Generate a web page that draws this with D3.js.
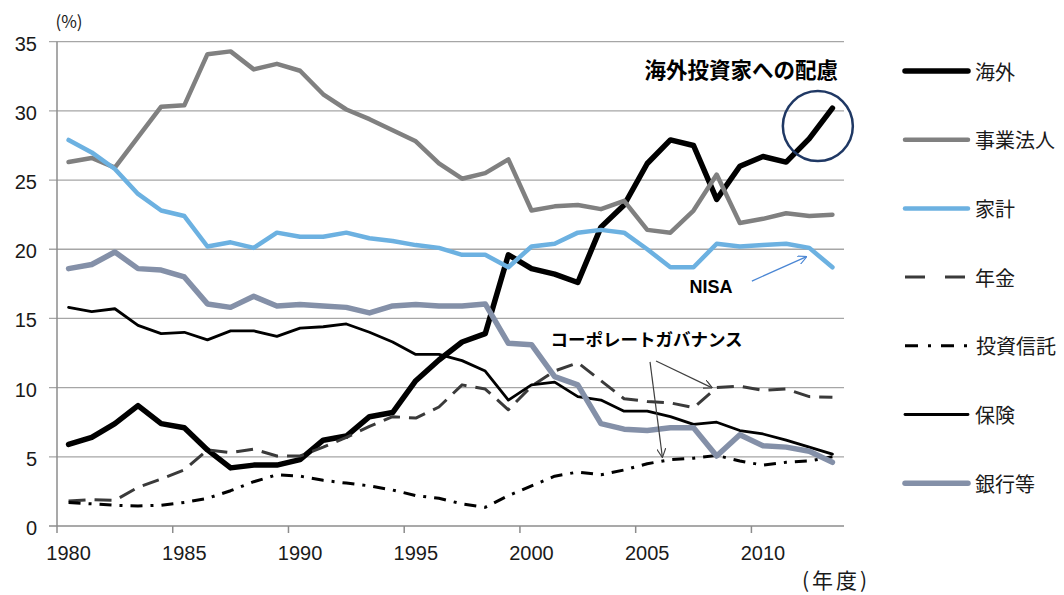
<!DOCTYPE html>
<html><head><meta charset="utf-8">
<script src="https://cdn.jsdelivr.net/npm/d3@7"></script>
<style>
html,body{margin:0;padding:0;background:#fff;}
svg{display:block;}
</style></head>
<body>
<svg id="chart" width="1064" height="595"></svg>
<script>
const years = [1980,1981,1982,1983,1984,1985,1986,1987,1988,1989,1990,1991,1992,1993,1994,1995,1996,1997,1998,1999,2000,2001,2002,2003,2004,2005,2006,2007,2008,2009,2010,2011,2012,2013];
const yTicks = [0,5,10,15,20,25,30,35];
const xTickYears = [1980,1985,1990,1995,2000,2005,2010];
const seriesNames = ["海外","事業法人","家計","年金","投資信託","保険","銀行等"];
const kaigai   = [5.9,6.4,7.4,8.7,7.4,7.1,5.5,4.2,4.4,4.4,4.8,6.2,6.5,7.9,8.2,10.5,12.0,13.3,13.9,19.6,18.6,18.2,17.6,21.6,23.2,26.2,27.9,27.5,23.6,26.0,26.7,26.3,28.0,30.2];
const jigyo    = [26.3,26.6,25.9,28.1,30.3,30.4,34.1,34.3,33.0,33.4,32.9,31.2,30.1,29.4,28.6,27.8,26.2,25.1,25.5,26.5,22.8,23.1,23.2,22.9,23.5,21.4,21.2,22.8,25.4,21.9,22.2,22.6,22.4,22.5];
const kakei    = [27.9,27.0,25.8,24.0,22.8,22.4,20.2,20.5,20.1,21.2,20.9,20.9,21.2,20.8,20.6,20.3,20.1,19.6,19.6,18.7,20.2,20.4,21.2,21.4,21.2,20.0,18.7,18.7,20.4,20.2,20.3,20.4,20.1,18.7];
const nenkin   = [1.8,1.9,1.85,2.8,3.4,4.05,5.5,5.3,5.55,5.06,5.06,5.7,6.4,7.2,7.9,7.8,8.6,10.2,9.9,8.4,10.1,11.2,11.8,10.5,9.2,9.0,8.9,8.55,10.0,10.1,9.8,9.9,9.35,9.3];
const toshin   = [1.7,1.6,1.5,1.45,1.5,1.7,2.0,2.55,3.2,3.7,3.6,3.3,3.1,2.9,2.6,2.2,2.0,1.6,1.35,2.2,2.9,3.6,3.9,3.7,4.05,4.5,4.8,4.9,5.1,4.7,4.4,4.6,4.7,5.0];
const hoken    = [15.8,15.5,15.7,14.5,13.9,14.0,13.45,14.1,14.1,13.7,14.3,14.4,14.6,14.0,13.3,12.4,12.4,11.95,11.2,9.1,10.2,10.4,9.35,9.1,8.3,8.3,7.9,7.35,7.5,6.9,6.65,6.2,5.7,5.2];
const ginko    = [18.6,18.9,19.8,18.6,18.5,18.0,16.05,15.8,16.6,15.9,16.0,15.9,15.8,15.4,15.9,16.0,15.9,15.9,16.05,13.2,13.1,10.8,10.2,7.4,7.0,6.9,7.1,7.1,5.06,6.6,5.8,5.7,5.4,4.6];

const seriesValues = [kaigai,jigyo,kakei,nenkin,toshin,hoken,ginko];
const styles = [
  {color:"#000000", width:5.5, dash:null, cap:"round"},
  {color:"#808080", width:4.5, dash:null, cap:"round"},
  {color:"#6cb1e1", width:4.5, dash:null, cap:"round"},
  {color:"#3a3a3a", width:3,   dash:"17,9", cap:"butt"},
  {color:"#000000", width:3,   dash:"12,8,3,8", cap:"butt"},
  {color:"#000000", width:2.8, dash:null, cap:"round"},
  {color:"#8490a8", width:5.5, dash:null, cap:"round"}
];

const svg = d3.select("#chart");
const pLeft = 57, pRight = 844, pTop = 41.7, pBottom = 526;
const x = d3.scaleBand().domain(years).range([pLeft,pRight]).padding(0);
const bw = x.bandwidth();
const xc = yr => x(yr) + bw/2;
const xf = yr => pLeft + (yr - years[0] + 0.5)*bw; // fractional year position
const y = d3.scaleLinear().domain([0,35]).range([pBottom,pTop]);

const numFont = "'Liberation Sans', Arial, sans-serif";
const jpFont = "'Noto Sans CJK JP', 'Noto Sans', sans-serif";

// gridlines
svg.append("g").selectAll("line").data(yTicks.filter(d=>d>0)).join("line")
  .attr("x1", pLeft-8).attr("x2", pRight)
  .attr("y1", d=>y(d)).attr("y2", d=>y(d))
  .attr("stroke","#a6a6a6").attr("stroke-width",1.3);

// axes lines
svg.append("line").attr("x1",pLeft).attr("x2",pLeft).attr("y1",pTop).attr("y2",pBottom)
  .attr("stroke","#8c8c8c").attr("stroke-width",1.5);
svg.append("line").attr("x1",pLeft-8).attr("x2",pRight).attr("y1",pBottom).attr("y2",pBottom)
  .attr("stroke","#8c8c8c").attr("stroke-width",1.5);
// x tick marks
svg.append("g").selectAll("line").data(xTickYears).join("line")
  .attr("x1",d=>x(d)).attr("x2",d=>x(d)).attr("y1",pBottom).attr("y2",pBottom+7)
  .attr("stroke","#8c8c8c").attr("stroke-width",1.5);

// y tick labels
svg.append("g").selectAll("text").data(yTicks).join("text")
  .attr("x",37).attr("y",d=>y(d)+2).attr("text-anchor","end").attr("dominant-baseline","central")
  .attr("font-family",numFont).attr("font-size",20).attr("fill","#1a1a1a").text(d=>d);
// x tick labels
svg.append("g").selectAll("text").data(xTickYears).join("text")
  .attr("x",d=>xc(d)).attr("y",560).attr("text-anchor","middle")
  .attr("font-family",numFont).attr("font-size",20).attr("fill","#1a1a1a").text(d=>d);

svg.append("text").attr("x",69).attr("y",28).attr("text-anchor","middle")
  .attr("font-family",jpFont).attr("font-size",17).attr("fill","#1a1a1a").text("(%)");
svg.append("text").attr("x",836).attr("y",588).attr("text-anchor","middle")
  .attr("font-family",jpFont).attr("font-size",21).attr("letter-spacing",3).attr("fill","#1a1a1a")
  .text("(年度)");

// lines
const line = d3.line().x((d,i)=>xc(years[i])).y(d=>y(d));
seriesValues.forEach((vals,k)=>{
  const s = styles[k];
  const p = svg.append("path").datum(vals).attr("d",line)
    .attr("fill","none").attr("stroke",s.color).attr("stroke-width",s.width)
    .attr("stroke-linejoin","round").attr("stroke-linecap",s.cap);
  if (s.dash) p.attr("stroke-dasharray",s.dash);
});

// legend
const legY0 = 71, legStep = 68.7;
seriesNames.forEach((name,k)=>{
  const s = styles[k];
  const ly = legY0 + k*legStep;
  const l = svg.append("line").attr("x1",905).attr("x2",968).attr("y1",ly).attr("y2",ly)
    .attr("stroke",s.color).attr("stroke-width",s.width).attr("stroke-linecap",s.cap);
  if (k===3) l.attr("stroke-dasharray","20,20");
  if (k===4) l.attr("stroke-dasharray","13,10,3,10");
  svg.append("text").attr("x", k===4 ? 976 : 975).attr("y",ly).attr("dominant-baseline","central")
    .attr("font-family",jpFont).attr("font-size",20).attr("fill","#1a1a1a").text(name);
});

// annotations
const defs = svg.append("defs");
function marker(id,color){
  defs.append("marker").attr("id",id).attr("viewBox","0 0 10 10").attr("refX",9).attr("refY",5)
    .attr("markerWidth",9).attr("markerHeight",9).attr("orient","auto").attr("markerUnits","userSpaceOnUse")
    .append("path").attr("d","M0,0 L10,5 L0,10").attr("fill","none").attr("stroke",color).attr("stroke-width",1.3);
}
marker("arrBlue","#4a86d4");
marker("arrGray","#404040");

svg.append("text").attr("x",xf(2013.24)).attr("y",y(32.4)).attr("text-anchor","end")
  .attr("font-family",jpFont).attr("font-weight","bold").attr("font-size",21.5).attr("fill","#000")
  .text("海外投資家への配慮");
svg.append("circle").attr("cx",xf(2012.37)).attr("cy",y(28.9)).attr("r",35)
  .attr("fill","none").attr("stroke","#1f3864").attr("stroke-width",2.5);

svg.append("text").attr("x",xf(2007.75)).attr("y",y(16.85)).attr("text-anchor","middle")
  .attr("font-family",numFont).attr("font-weight","bold").attr("font-size",18).attr("fill","#000").text("NISA");
svg.append("line").attr("x1",xf(2009.52)).attr("y1",y(17.7)).attr("x2",xf(2011.86)).attr("y2",y(19.45))
  .attr("stroke","#4a86d4").attr("stroke-width",1.3).attr("marker-end","url(#arrBlue)");

svg.append("text").attr("x",xf(2004.97)).attr("y",y(13.0)).attr("text-anchor","middle")
  .attr("font-family",jpFont).attr("font-weight","bold").attr("font-size",17.5).attr("fill","#000")
  .text("コーポレートガバナンス");
svg.append("line").attr("x1",xf(2005.12)).attr("y1",y(11.86)).attr("x2",xf(2005.65)).attr("y2",y(5.01))
  .attr("stroke","#404040").attr("stroke-width",1.2).attr("marker-end","url(#arrGray)");
svg.append("line").attr("x1",xf(2005.38)).attr("y1",y(11.93)).attr("x2",xf(2007.78)).attr("y2",y(10.0))
  .attr("stroke","#404040").attr("stroke-width",1.2).attr("marker-end","url(#arrGray)");
</script>
</body></html>
